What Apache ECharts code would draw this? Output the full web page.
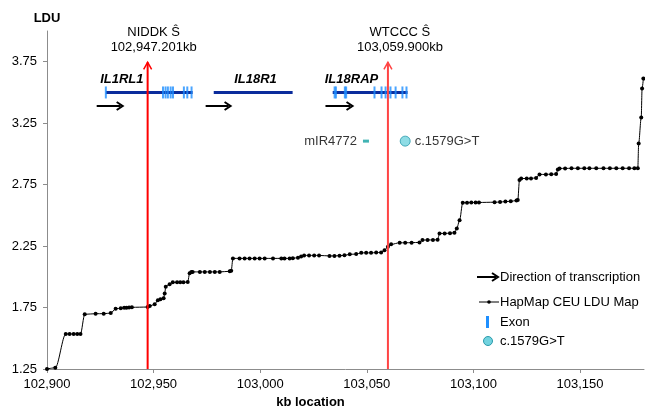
<!DOCTYPE html>
<html>
<head>
<meta charset="utf-8">
<title>LDU map</title>
<script src="https://cdn.jsdelivr.net/npm/echarts@6.0.0/dist/echarts.min.js"></script>
<style>
    html, body { margin: 0; padding: 0; background: #fff; }
    #chart { width: 645px; height: 406px; }
</style>
</head>
<body>
<div id="chart"></div>
<script>
var FONT = '"Liberation Sans", Arial, Helvetica, sans-serif';

// HapMap CEU LDU map (kb location / LDU)
var kbLoc = [
    102900, 102903.9, 102908.8, 102910.6, 102912.5, 102914.2, 102915.7, 102917.7, 102922.8, 102926.6,
    102929.9, 102932.2, 102934.6, 102936.2, 102937.3, 102938.5, 102939.8, 102947.2, 102948.2, 102950.5,
    102952.0, 102953.2, 102954.7, 102955.2, 102955.7, 102957.5, 102959.0, 102961.0, 102962.5, 102964.0,
    102966.0, 102966.9, 102967.7, 102968.3, 102971.7, 102974.0, 102976.4, 102978.7, 102981.0, 102985.7,
    102986.4, 102987.2, 102990.3, 102992.7, 102995.0, 102997.4, 102999.7, 103002.1, 103006.0, 103009.9,
    103011.4, 103013.8, 103015.3, 103017.7, 103019.2, 103020.6, 103022.9, 103025.3, 103027.6, 103032.5,
    103034.8, 103037.2, 103039.5, 103042.0, 103045.0, 103047.4, 103049.7, 103052.0, 103054.4, 103056.7,
    103058.3, 103059.9, 103061.4, 103065.4, 103068.0, 103071.0, 103074.7, 103076.1, 103078.5, 103081.0,
    103083.2, 103084.1, 103086.5, 103089.0, 103091.1, 103092.2, 103093.5, 103095.0, 103097.0, 103099.0,
    103101.0, 103102.6, 103109.9, 103112.5, 103115.0, 103117.5, 103120.2, 103120.8, 103121.6, 103122.4,
    103125.0, 103127.0, 103129.4, 103131.0, 103134.0, 103136.5, 103138.8, 103139.6, 103140.4, 103143.0,
    103146.0, 103149.0, 103152.0, 103154.4, 103157.6, 103161.0, 103164.0, 103167.0, 103170.0, 103173.0,
    103175.5, 103177.1, 103177.5, 103178.7, 103179.1, 103179.7
];
var ldu = [
    1.25, 1.26, 1.535, 1.535, 1.535, 1.535, 1.535, 1.695, 1.70, 1.70,
    1.705, 1.74, 1.745, 1.748, 1.748, 1.75, 1.752, 1.754, 1.762, 1.776,
    1.81, 1.817, 1.825, 1.865, 1.92, 1.94, 1.955, 1.955, 1.955, 1.955,
    1.958, 2.03, 2.04, 2.04, 2.04, 2.04, 2.04, 2.04, 2.04, 2.045,
    2.05, 2.15, 2.15, 2.15, 2.15, 2.15, 2.15, 2.15, 2.15, 2.15,
    2.15, 2.15, 2.152, 2.155, 2.166, 2.174, 2.174, 2.174, 2.174, 2.17,
    2.17, 2.172, 2.175, 2.183, 2.185, 2.195, 2.195, 2.195, 2.197, 2.198,
    2.217, 2.244, 2.264, 2.277, 2.277, 2.278, 2.28, 2.299, 2.30, 2.30,
    2.302, 2.353, 2.353, 2.355, 2.358, 2.394, 2.46, 2.603, 2.603, 2.604,
    2.605, 2.605, 2.607, 2.608, 2.612, 2.615, 2.62, 2.624, 2.787, 2.80,
    2.80, 2.80, 2.805, 2.833, 2.833, 2.835, 2.836, 2.874, 2.882, 2.882,
    2.883, 2.883, 2.883, 2.883, 2.883, 2.883, 2.883, 2.883, 2.883, 2.883,
    2.883, 2.883, 3.085, 3.296, 3.532, 3.613
];

var yTicks = [1.25, 1.75, 2.25, 2.75, 3.25, 3.75];

// genes drawn in the upper band
var geneNames = ['IL1RL1', 'IL18R1', 'IL18RAP'];
var geneStart = [102927.6, 102978.2, 103034.0];
var geneEnd = [102968.3, 103015.2, 103069.1];
var geneLabelKb = [102935.1, 102997.8, 103042.8];
var arrowStart = [102923.3, 102974.4, 103030.6];
var arrowEnd = [102935.5, 102986.1, 103043.3];
var exonKb = [
    102927.6, 102954.4, 102955.6, 102956.7, 102958.0, 102959.1, 102964.2, 102965.8, 102967.8,
    103034.9, 103035.5, 103039.7, 103040.3, 103053.6, 103056.9, 103058.8, 103061.1, 103063.5, 103066.7, 103068.6
];

// association peaks
var markerKb = [102947.201, 103059.9];
var markerName = ['NIDDK Ŝ', 'WTCCC Ŝ'];
var markerLabel = ['102,947.201kb', '103,059.900kb'];

var mirKb = 103049.6;
var variantKb = 103068.0;

// y levels of the annotation rows (LDU units)
var geneY = 3.50, labelY = 3.61, arrowY = 3.39, variantY = 3.104, markerTop = 3.745;

var chart = echarts.init(document.getElementById('chart'));

function arrowShape(x1, y, x2, color) {
    return [
        { type: 'line', shape: { x1: x1, y1: y, x2: x2 - 2, y2: y }, style: { stroke: color, lineWidth: 2 } },
        { type: 'polyline', shape: { points: [[x2 - 6, y - 4], [x2, y], [x2 - 6, y + 4]] },
          style: { stroke: color, lineWidth: 2, fill: null } }
    ];
}

var option = {
    animation: false,
    textStyle: { fontFamily: FONT },
    grid: { left: 47, right: 1, top: 31, bottom: 37, containLabel: false, outerBoundsMode: 'none' },
    xAxis: {
        type: 'value',
        min: 102900,
        max: 103180,
        interval: 50,
        name: 'kb location',
        nameLocation: 'middle',
        nameGap: 23,
        nameTextStyle: { fontFamily: FONT, fontSize: 13, fontWeight: 'bold', color: '#000', padding: [0, 70, 0, 0] },
        axisLine: { lineStyle: { color: '#8c8c8c', width: 1 } },
        axisTick: { length: 4, lineStyle: { color: '#8c8c8c' } },
        axisLabel: { fontFamily: FONT, fontSize: 13, color: '#000', margin: 9, showMaxLabel: false },
        splitLine: { show: false }
    },
    yAxis: {
        type: 'value',
        min: 1.25,
        max: 4,
        name: 'LDU',
        nameLocation: 'end',
        nameGap: 6,
        nameTextStyle: { fontFamily: FONT, fontSize: 13, fontWeight: 'bold', color: '#000' },
        axisLine: { show: true, lineStyle: { color: '#8c8c8c', width: 1 } },
        axisTick: { show: true, length: 4, customValues: yTicks, lineStyle: { color: '#8c8c8c' } },
        axisLabel: {
            fontFamily: FONT, fontSize: 13, color: '#000', margin: 10,
            customValues: yTicks,
            formatter: function (v) { return v.toFixed(2); }
        },
        splitLine: { show: false }
    },
    series: [
        {
            name: 'HapMap CEU LDU Map',
            type: 'line',
            data: kbLoc.map(function (k, i) { return [k, ldu[i]]; }),
            smooth: 0.3,
            smoothMonotone: 'x',
            symbol: 'circle',
            symbolSize: 4,
            showSymbol: true,
            itemStyle: { color: '#000' },
            lineStyle: { color: '#000', width: 1 },
            z: 3
        },
        {
            name: 'Genes',
            type: 'custom',
            clip: false,
            data: geneNames.map(function (n, i) { return [geneStart[i], geneY]; }),
            renderItem: function (params, api) {
                var i = params.dataIndex;
                var s = api.coord([geneStart[i], geneY]);
                var e = api.coord([geneEnd[i], geneY]);
                var l = api.coord([geneLabelKb[i], labelY]);
                var a1 = api.coord([arrowStart[i], arrowY]);
                var a2 = api.coord([arrowEnd[i], arrowY]);
                return {
                    type: 'group',
                    children: [
                        { type: 'line', shape: { x1: s[0], y1: s[1], x2: e[0], y2: e[1] },
                          style: { stroke: '#0b2c9c', lineWidth: 3 } },
                        { type: 'text', x: l[0], y: l[1],
                          style: { text: geneNames[i], fontFamily: FONT, fontSize: 13, fontWeight: 'bold',
                                   fontStyle: 'italic', fill: '#000', align: 'center', verticalAlign: 'middle' } }
                    ].concat(arrowShape(a1[0], a1[1], a2[0], '#000'))
                };
            },
            z: 4
        },
        {
            name: 'Exon',
            type: 'scatter',
            data: exonKb.map(function (k) { return [k, geneY]; }),
            symbol: 'rect',
            symbolSize: [2, 12],
            itemStyle: { color: '#1e8fff' },
            z: 5
        },
        {
            name: 'mIR4772',
            type: 'scatter',
            data: [[mirKb, variantY]],
            symbol: 'rect',
            symbolSize: [6, 3],
            itemStyle: { color: '#12a0a0' },
            label: { show: true, position: 'left', distance: 6, formatter: 'mIR4772',
                     fontFamily: FONT, fontSize: 13, color: '#000' },
            z: 5
        },
        {
            name: 'c.1579G>T',
            type: 'scatter',
            data: [[variantKb, variantY]],
            symbol: 'circle',
            symbolSize: 10,
            itemStyle: { color: '#72d3df', borderColor: '#2b9aab', borderWidth: 1 },
            label: { show: true, position: 'right', distance: 4, formatter: 'c.1579G>T',
                     fontFamily: FONT, fontSize: 13, color: '#000' },
            z: 5
        },
        {
            name: 'Peaks',
            type: 'custom',
            clip: false,
            data: markerKb.map(function (k) { return [k, 1.25]; }),
            renderItem: function (params, api) {
                var i = params.dataIndex;
                var colors = ['#ff0000', '#ff4444'];
                var shift = [6, 12];
                var b = api.coord([markerKb[i], 1.25]);
                var t = api.coord([markerKb[i], markerTop]);
                return {
                    type: 'group',
                    children: [
                        { type: 'line', shape: { x1: b[0], y1: b[1], x2: t[0], y2: t[1] },
                          style: { stroke: colors[i], lineWidth: 2 } },
                        { type: 'polyline', shape: { points: [[t[0] - 4, t[1] + 7], [t[0], t[1]], [t[0] + 4, t[1] + 7]] },
                          style: { stroke: colors[i], lineWidth: 1.5, fill: null } },
                        { type: 'text', x: t[0] + shift[i], y: t[1] - 22.5,
                          style: { text: markerName[i] + '\n' + markerLabel[i], fontFamily: FONT, fontSize: 13,
                                   lineHeight: 15, fill: '#000', align: 'center', verticalAlign: 'middle' } }
                    ]
                };
            },
            z: 6
        }
    ],
    // hand-drawn key, as in the original figure
    graphic: arrowShape(477, 277, 498, '#000').concat([
        { type: 'text', x: 500, y: 277,
          style: { text: 'Direction of transcription', fontFamily: FONT, fontSize: 13, fill: '#000', verticalAlign: 'middle' } },
        { type: 'line', shape: { x1: 479, y1: 302, x2: 499, y2: 302 }, style: { stroke: '#000', lineWidth: 1 } },
        { type: 'circle', shape: { cx: 489, cy: 302, r: 1.8 }, style: { fill: '#000' } },
        { type: 'text', x: 500, y: 302,
          style: { text: 'HapMap CEU LDU Map', fontFamily: FONT, fontSize: 13, fill: '#000', verticalAlign: 'middle' } },
        { type: 'rect', shape: { x: 486, y: 316, width: 3, height: 12 }, style: { fill: '#1e8fff' } },
        { type: 'text', x: 500, y: 322,
          style: { text: 'Exon', fontFamily: FONT, fontSize: 13, fill: '#000', verticalAlign: 'middle' } },
        { type: 'circle', shape: { cx: 488, cy: 341, r: 4.5 }, style: { fill: '#72d3df', stroke: '#2b9aab', lineWidth: 1 } },
        { type: 'text', x: 500, y: 341,
          style: { text: 'c.1579G>T', fontFamily: FONT, fontSize: 13, fill: '#000', verticalAlign: 'middle' } }
    ])
};

chart.setOption(option);
</script>
</body>
</html>
